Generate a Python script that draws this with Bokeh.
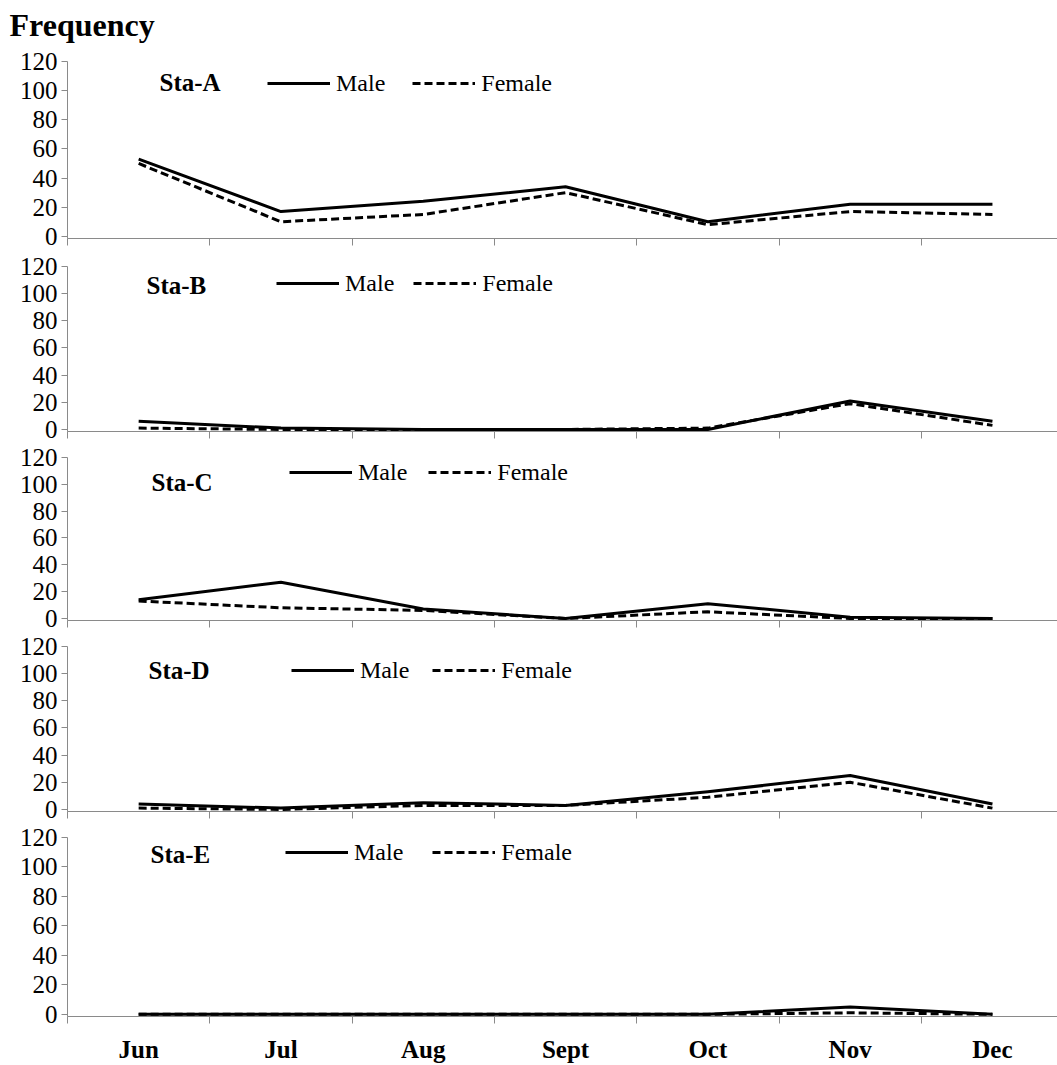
from bokeh.plotting import figure
from bokeh.models import FixedTicker, Label, Legend, LegendItem, Range1d
from bokeh.layouts import column
from bokeh.embed import file_html
from bokeh.resources import INLINE

# ---------------- data ----------------
months = ["Jun", "Jul", "Aug", "Sept", "Oct", "Nov", "Dec"]
stations = ["Sta-A", "Sta-B", "Sta-C", "Sta-D", "Sta-E"]
male_A = [53, 17, 24, 34, 10, 22, 22]
female_A = [50, 10, 15, 30, 8, 17, 15]
male_B = [6, 1, 0, 0, 0, 21, 6]
female_B = [1, 0, 0, 0, 1, 19, 3]
male_C = [14, 27, 7, 0, 11, 1, 0]
female_C = [13, 8, 6, 0, 5, 0, 0]
male_D = [4, 1, 5, 3, 13, 25, 4]
female_D = [1, 0, 3, 3, 9, 20, 1]
male_E = [0, 0, 0, 0, 0, 5, 0]
female_E = [0, 0, 0, 0, 0, 1, 0]
y_ticks = [0, 20, 40, 60, 80, 100, 120]
series_names = ["Male", "Female"]
y_title = "Frequency"

# ---------------- layout constants ----------------
FIG_W = 1057
LEFT = 67
CAT_W = 142.3
X_END = -0.5 + (FIG_W - LEFT) / CAT_W
Y0, Y1 = -1.5, 120
FONT = "Liberation Serif, Times New Roman, DejaVu Serif, serif"
FONT_B = "Liberation Serif"
AXIS_GRAY = "#8a8a8a"
HEADER_H = 47

# frame height, border top, border bottom, page y of frame bottom
panels_geom = [
    (177, 14, 14, 238),
    (165, 14, 13, 431),
    (163, 13, 13, 620),
    (165, 13, 13, 811),
    (184, 13, 44, 1021),
]
# station label (page x, page y centre); legend (first glyph page x, centre y, spacing)
sta_pos = [(159, 82), (146, 285), (151, 482), (148, 670), (150, 854)]
leg_pos = [(267, 83, 27), (276, 283, 19), (289, 472, 21), (291, 670, 23), (285, 857, 29)]

males = [male_A, male_B, male_C, male_D, male_E]
females = [female_A, female_B, female_C, female_D, female_E]


def px_to_x(px):
    return (px - LEFT) / CAT_W - 0.5


def px_to_y(py, fbottom, fh):
    return (fbottom - py) / fh * (Y1 - Y0) + Y0


# header strip holding the axis title
header = figure(width=FIG_W, height=HEADER_H, x_range=Range1d(0, 1), y_range=Range1d(0, 1),
                x_axis_location=None, y_axis_location=None, output_backend="svg",
                toolbar_location=None, min_border=0, border_fill_color="white",
                title=y_title)
header.grid.visible = False
header.outline_line_color = None
header.title.align = "left"
header.title.offset = -58
header.title.standoff = 8
header.title.text_font = FONT_B
header.title.text_font_style = "bold"
header.title.text_font_size = "32px"
header.title.text_color = "black"

figs = [header]
xs = list(range(len(months)))
minor = [k - 0.5 for k in range(len(months) + 1)]
for i, st in enumerate(stations):
    fh, top, bottom, fbottom = panels_geom[i]
    last = i == len(stations) - 1
    p = figure(width=FIG_W, height=fh + top + bottom,
               x_range=Range1d(-0.5, X_END), y_range=Range1d(Y0, Y1),
               output_backend="svg", toolbar_location=None,
               min_border_left=LEFT, min_border_right=0,
               min_border_top=top, min_border_bottom=bottom,
               background_fill_color="white", border_fill_color="white")
    p.grid.visible = False
    p.outline_line_color = None

    # x axis
    p.xaxis.axis_line_color = AXIS_GRAY
    p.xaxis.major_tick_line_color = None
    p.xaxis.major_tick_out = 0
    p.xaxis.major_tick_in = 0
    p.xaxis.minor_tick_line_color = AXIS_GRAY
    p.xaxis.minor_tick_out = 7
    p.xaxis.minor_tick_in = 0
    if last:
        p.xaxis.ticker = FixedTicker(ticks=xs, minor_ticks=minor)
        p.xaxis.major_label_overrides = {k: m for k, m in enumerate(months)}
        p.xaxis.major_label_text_font = FONT_B
        p.xaxis.major_label_text_font_style = "bold"
        p.xaxis.major_label_text_font_size = "25px"
        p.xaxis.major_label_text_color = "black"
        p.xaxis.major_label_standoff = 12
    else:
        p.xaxis.ticker = FixedTicker(ticks=[], minor_ticks=minor)
        p.xaxis.major_label_standoff = 0

    # y axis
    p.yaxis.ticker = FixedTicker(ticks=y_ticks)
    p.yaxis.axis_line_color = AXIS_GRAY
    p.yaxis.major_tick_line_color = AXIS_GRAY
    p.yaxis.major_tick_out = 6
    p.yaxis.major_tick_in = 0
    p.yaxis.minor_tick_line_color = None
    p.yaxis.major_label_text_font = FONT
    p.yaxis.major_label_text_font_size = "25px"
    p.yaxis.major_label_text_color = "black"
    p.yaxis.major_label_standoff = 4

    rm = p.line(xs, males[i], line_color="black", line_width=3, line_join="round")
    rf = p.line(xs, females[i], line_color="black", line_width=3, line_dash="8 4", line_join="round")

    sx, sy = sta_pos[i]
    p.add_layout(Label(x=px_to_x(sx), y=px_to_y(sy, fbottom, fh), text=st,
                       text_font=FONT_B, text_font_style="bold", text_font_size="25px",
                       text_baseline="middle", text_align="left", text_color="black"))

    lx, ly, lsp = leg_pos[i]
    leg = Legend(items=[LegendItem(label=series_names[0], renderers=[rm]),
                        LegendItem(label=series_names[1], renderers=[rf])],
                 orientation="horizontal",
                 location=(lx - LEFT, (fbottom - ly) - 14),
                 glyph_width=63, glyph_height=28, label_height=28,
                 label_standoff=6, spacing=lsp, padding=0, margin=0,
                 border_line_color=None, background_fill_alpha=0,
                 label_text_font=FONT, label_text_font_size="24px",
                 label_text_color="black", label_text_baseline="middle")
    p.add_layout(leg)

    figs.append(p)

layout = column(*figs, spacing=0)
open("out.html", "w").write(file_html(layout, INLINE))
